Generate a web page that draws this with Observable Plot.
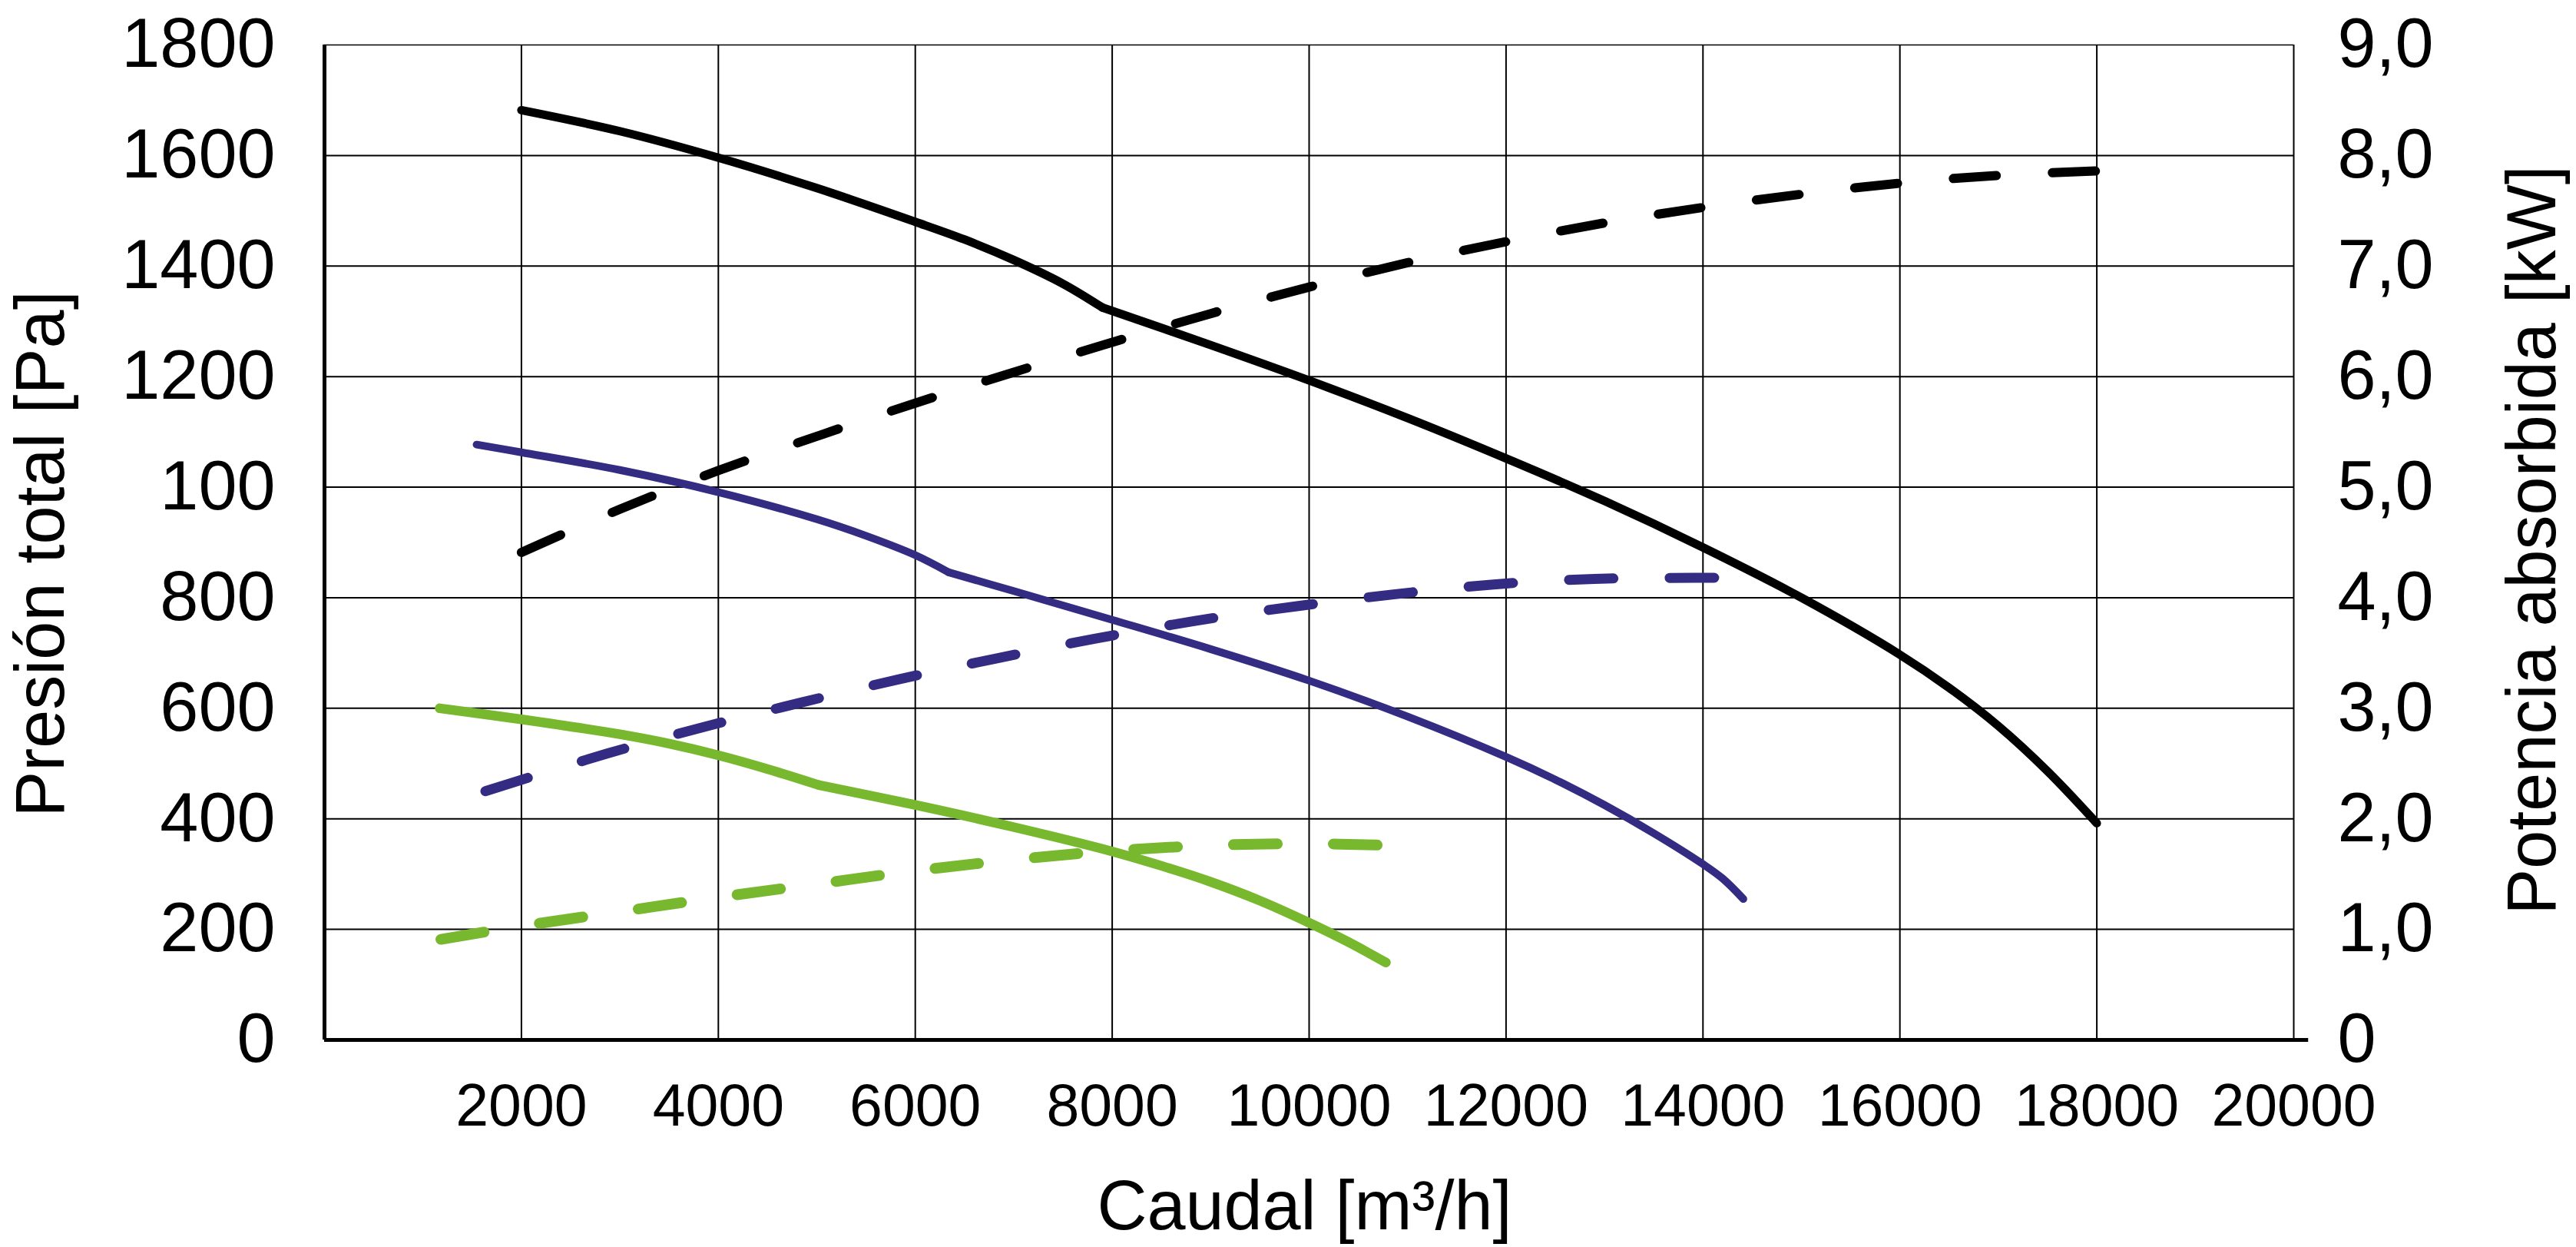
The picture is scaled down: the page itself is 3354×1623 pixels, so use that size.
<!DOCTYPE html>
<html>
<head>
<meta charset="utf-8">
<script src="https://cdn.jsdelivr.net/npm/d3@7"></script>
<script src="https://cdn.jsdelivr.net/npm/@observablehq/plot@0.6"></script>
<style>
  html, body { margin: 0; padding: 0; background: #ffffff; }
  #chart { width: 3354px; height: 1623px; }
</style>
</head>
<body>
<div id="chart"></div>
<script>
// ---- Axis ticks and labels ----
const xTickValues = [2000, 4000, 6000, 8000, 10000, 12000, 14000, 16000, 18000, 20000];
const xTickLabels = ["2000", "4000", "6000", "8000", "10000", "12000", "14000", "16000", "18000", "20000"];
const yTickValues = [0, 200, 400, 600, 800, 1000, 1200, 1400, 1600, 1800];
const yTickLabelsLeft = ["0", "200", "400", "600", "800", "100", "1200", "1400", "1600", "1800"];
const yTickLabelsRight = ["0", "1,0", "2,0", "3,0", "4,0", "5,0", "6,0", "7,0", "8,0", "9,0"];
const xTitle = "Caudal [m³/h]";
const yLeftTitle = "Presión total [Pa]";
const yRightTitle = "Potencia absorbida [kW]";
const kWToPa = 1800 / 9; // right axis 0–9,0 kW shares the 0–1800 Pa frame

// ---- Black fan: pressure [Pa] (two segments meeting at the kink) and power [kW] vs flow [m³/h] ----
const blackPressureFlowA = [2000, 3000, 4000, 5000, 6000, 6500, 7000, 7500, 7900];
const blackPressureA     = [1682, 1644, 1596, 1541, 1480, 1448, 1411, 1368, 1325];
const blackPressureFlowB = [7900, 9000, 10000, 11000, 12000, 13000, 14000, 15000, 16000, 16500, 17000, 17500, 18000];
const blackPressureB     = [1325, 1257, 1193, 1125, 1052, 975, 891, 800, 697, 637, 568, 486, 392];
const blackPowerFlow = [2000, 3000, 4000, 5000, 6000, 7000, 8000, 9000, 10000, 11000, 12000, 13000, 14000, 15000, 16000, 17000, 18000];
const blackPower     = [4.41, 4.80, 5.15, 5.46, 5.76, 6.04, 6.31, 6.57, 6.81, 7.03, 7.22, 7.39, 7.53, 7.65, 7.75, 7.82, 7.86];

// ---- Blue fan ----
const bluePressureFlowA = [1545, 2000, 3000, 4000, 5000, 5500, 6000, 6339];
const bluePressureA     = [1077, 1063, 1031, 991, 942, 912, 877, 846];
const bluePressureFlowB = [6339, 7000, 8000, 9000, 10000, 11000, 12000, 12500, 13000, 13500, 14000, 14200, 14410];
const bluePressureB     = [846, 812, 760, 707, 650, 585, 512, 471, 425, 374, 318, 292, 255];
const bluePowerFlow = [1634, 2870, 3851, 4832, 5826, 6820, 7831, 8842, 9847, 10858, 11874, 12896, 13907, 14190];
const bluePower     = [2.25, 2.59, 2.83, 3.05, 3.26, 3.45, 3.63, 3.79, 3.92, 4.03, 4.12, 4.17, 4.18, 4.18];

// ---- Green fan ----
const greenPressureFlowA = [1170, 2000, 3000, 3500, 4000, 4500, 5023];
const greenPressureA     = [600, 580, 553, 536, 515, 490, 461];
const greenPressureFlowB = [5023, 6000, 7000, 8000, 8500, 9000, 9500, 10000, 10400, 10780];
const greenPressureB     = [461, 425, 385, 341, 315, 286, 252, 212, 177, 140];
const greenPowerFlow = [1182, 2000, 3000, 4000, 5000, 6000, 7000, 8000, 9000, 10000, 10810];
const greenPower     = [0.91, 1.03, 1.16, 1.29, 1.41, 1.53, 1.63, 1.71, 1.76, 1.775, 1.76];

const colBlack = "#000000";
const colBlue = "#342c82";
const colGreen = "#77b82f";

const rows = (xs, ys, seg = 0) => xs.map((q, i) => ({q, v: ys[i], seg}));

const lineOpts = (stroke, width, dash) => ({
  x: "q", y: "v", z: "seg", stroke, strokeWidth: width, curve: "catmull-rom",
  strokeLinecap: "round", strokeLinejoin: "round",
  ...(dash ? {strokeDasharray: dash} : {})
});
const powerOpts = (stroke, width, dash) => ({
  ...lineOpts(stroke, width, dash), y: d => d.v * kWToPa
});

const chart = Plot.plot({
  width: 3354,
  height: 1623,
  marginLeft: 422,
  marginRight: 368,
  marginTop: 58,
  marginBottom: 270,
  x: {domain: [0, 20000]},
  y: {domain: [0, 1800]},
  style: {fontFamily: "'Liberation Sans', Arial, sans-serif", background: "#ffffff", color: "#000000"},
  marks: [
    Plot.gridX(xTickValues.slice(0, -1), {stroke: "#000", strokeOpacity: 1, strokeWidth: 2}),
    Plot.gridY(yTickValues.slice(1, -1), {stroke: "#000", strokeOpacity: 1, strokeWidth: 2}),
    Plot.ruleY([1800], {stroke: "#000", strokeWidth: 1.5}),
    Plot.ruleX([20000], {stroke: "#000", strokeWidth: 2}),

    Plot.line(rows(greenPowerFlow, greenPower), powerOpts(colGreen, 14, "57,73")),
    Plot.line([...rows(greenPressureFlowA, greenPressureA, 0), ...rows(greenPressureFlowB, greenPressureB, 1)], lineOpts(colGreen, 12.5)),
    Plot.line(rows(bluePowerFlow, bluePower), powerOpts(colBlue, 13, "58,73")),
    Plot.line([...rows(bluePressureFlowA, bluePressureA, 0), ...rows(bluePressureFlowB, bluePressureB, 1)], lineOpts(colBlue, 10)),
    Plot.line(rows(blackPowerFlow, blackPower), powerOpts(colBlack, 12, "56,73")),
    Plot.line([...rows(blackPressureFlowA, blackPressureA, 0), ...rows(blackPressureFlowB, blackPressureB, 1)], lineOpts(colBlack, 11)),

    Plot.ruleX([0], {stroke: "#000", strokeWidth: 5}),
    Plot.ruleY([0], {x1: 0, x2: 20150, stroke: "#000", strokeWidth: 5}),

    Plot.axisX({ticks: xTickValues, tickSize: 0, tickPadding: 57, fontSize: 77, label: null,
      tickFormat: d => xTickLabels[xTickValues.indexOf(d)]}),
    Plot.axisY({anchor: "left", ticks: yTickValues, tickSize: 0, tickPadding: 64, fontSize: 90, label: null,
      tickFormat: d => yTickLabelsLeft[yTickValues.indexOf(d)]}),
    Plot.axisY({anchor: "right", ticks: yTickValues, tickSize: 0, tickPadding: 57, fontSize: 90, label: null,
      tickFormat: d => yTickLabelsRight[yTickValues.indexOf(d)]}),

    Plot.text([yLeftTitle], {frameAnchor: "left", dx: -368, dy: 15, rotate: -90, fontSize: 90, textAnchor: "middle", lineAnchor: "middle"}),
    Plot.text([yRightTitle], {frameAnchor: "right", dx: 312, dy: -3, rotate: -90, fontSize: 90, textAnchor: "middle", lineAnchor: "middle"}),
    Plot.text([xTitle], {frameAnchor: "bottom", dx: -6, dy: 218, fontSize: 90, textAnchor: "middle", lineAnchor: "middle"})
  ]
});

document.getElementById("chart").appendChild(chart);
</script>
</body>
</html>
